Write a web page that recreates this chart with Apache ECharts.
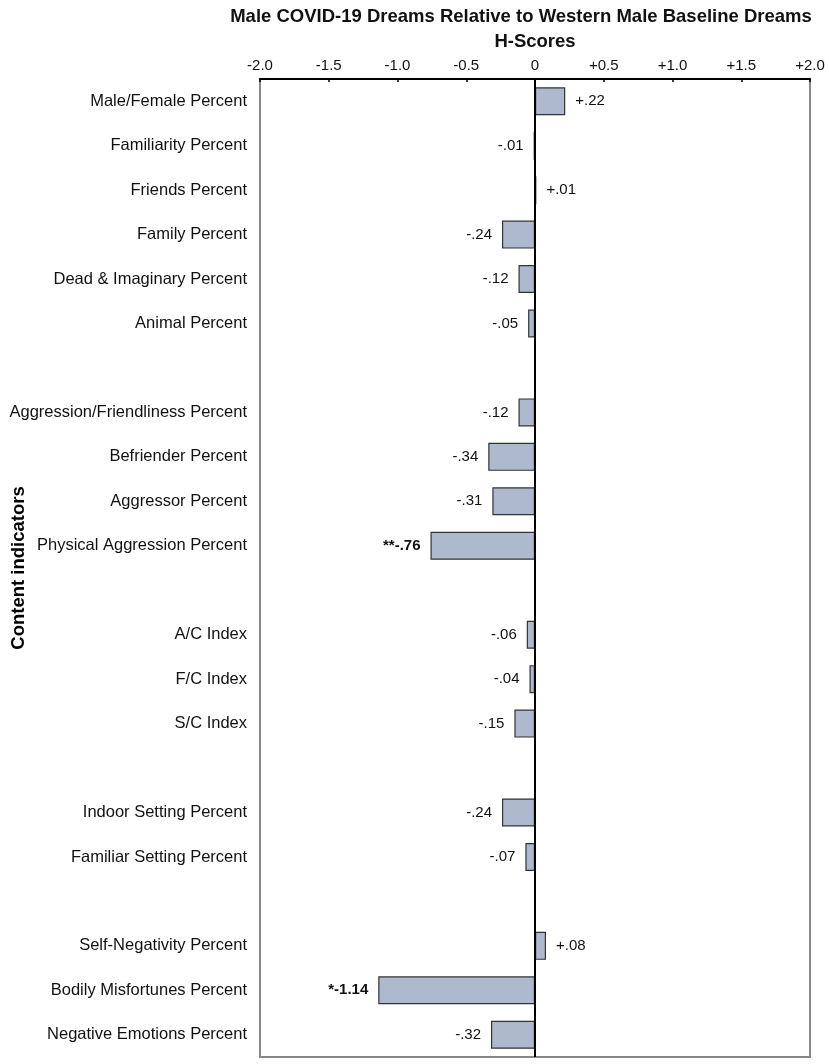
<!DOCTYPE html>
<html>
<head>
<meta charset="utf-8">
<script src="https://cdn.jsdelivr.net/npm/echarts@6/dist/echarts.min.js"></script>
<style>
html, body { margin: 0; padding: 0; background: #fff; }
#chart { width: 829px; height: 1064px; }
</style>
</head>
<body>
<div id="chart"></div>
<script>
// rows top to bottom; blank strings are the spacer rows between groups
var categories = [
    'Male/Female Percent', 'Familiarity Percent', 'Friends Percent', 'Family Percent',
    'Dead & Imaginary Percent', 'Animal Percent', ' ',
    'Aggression/Friendliness Percent', 'Befriender Percent', 'Aggressor Percent',
    'Physical Aggression Percent', '  ',
    'A/C Index', 'F/C Index', 'S/C Index', '   ',
    'Indoor Setting Percent', 'Familiar Setting Percent', '    ',
    'Self-Negativity Percent', 'Bodily Misfortunes Percent', 'Negative Emotions Percent'
];
var hScores = [
    0.22, -0.01, 0.01, -0.24, -0.12, -0.05, null,
    -0.12, -0.34, -0.31, -0.76, null,
    -0.06, -0.04, -0.15, null,
    -0.24, -0.07, null,
    0.08, -1.14, -0.32
];
var scoreLabels = [
    '+.22', '-.01', '+.01', '-.24', '-.12', '-.05', '',
    '-.12', '-.34', '-.31', '**-.76', '',
    '-.06', '-.04', '-.15', '',
    '-.24', '-.07', '',
    '+.08', '*-1.14', '-.32'
];
var significant = [
    false, false, false, false, false, false, false,
    false, false, false, true, false,
    false, false, false, false,
    false, false, false,
    false, true, false
];
var xTicks = [-2, -1.5, -1, -0.5, 0, 0.5, 1, 1.5, 2];

var font = '"Liberation Sans", Arial, Helvetica, sans-serif';

var barData = hScores.map(function (v, i) {
    if (v === null) return null;
    return {
        value: v,
        label: {
            show: true,
            position: v >= 0 ? 'right' : 'left',
            distance: 10,
            formatter: scoreLabels[i],
            fontWeight: significant[i] ? 'bold' : 'normal'
        }
    };
});

var myChart = echarts.init(document.getElementById('chart'));
var option = {
    animation: false,
    backgroundColor: '#fff',
    textStyle: { fontFamily: font },
    title: {
        text: 'Male COVID-19 Dreams Relative to Western Male Baseline Dreams',
        left: 516,
        top: 2,
        textAlign: 'center',
        textStyle: { fontSize: 18.5, fontWeight: 'bold', color: '#111', fontFamily: font }
    },
    grid: {
        left: 260,
        right: 19,
        top: 79,
        bottom: 7,
        containLabel: false,
        outerBoundsMode: 'none',
        show: true,
        borderColor: '#888',
        borderWidth: 2,
        backgroundColor: 'transparent'
    },
    xAxis: {
        type: 'value',
        position: 'top',
        min: xTicks[0],
        max: xTicks[xTicks.length - 1],
        interval: 0.5,
        name: 'H-Scores',
        nameLocation: 'middle',
        nameGap: 28,
        nameTextStyle: { fontSize: 18.5, fontWeight: 'bold', color: '#111', fontFamily: font },
        axisLine: { show: true, lineStyle: { color: '#000', width: 2 } },
        axisTick: { show: true, inside: true, length: 3, lineStyle: { color: '#000', width: 1.5 } },
        splitLine: { show: false },
        axisLabel: {
            margin: 6,
            fontSize: 15,
            color: '#111',
            formatter: function (v) {
                if (v === 0) return '0';
                return (v > 0 ? '+' : '') + v.toFixed(1);
            }
        }
    },
    yAxis: {
        type: 'category',
        inverse: true,
        data: categories,
        name: 'Content indicators',
        nameLocation: 'middle',
        nameGap: 232,
        nameRotate: 90,
        nameMoveOverlap: false,
        nameTextStyle: { fontSize: 18.5, fontWeight: 'bold', color: '#000', fontFamily: font },
        axisLine: { show: false, onZero: false },
        axisTick: { show: false },
        splitLine: { show: false },
        axisLabel: { margin: 13, fontSize: 16.5, color: '#111', interval: 0 }
    },
    series: [{
        type: 'bar',
        data: barData,
        barWidth: 28,
        itemStyle: { color: '#adb9cc', borderColor: '#333', borderWidth: 1.2 },
        label: { fontSize: 15, color: '#111', fontFamily: font },
        markLine: {
            silent: true,
            symbol: 'none',
            label: { show: false },
            lineStyle: { color: '#000', width: 2, type: 'solid' },
            data: [{ xAxis: 0 }]
        }
    }]
};
myChart.setOption(option);

window.onresize = function () {
    myChart.resize();
};
</script>
</body>
</html>
